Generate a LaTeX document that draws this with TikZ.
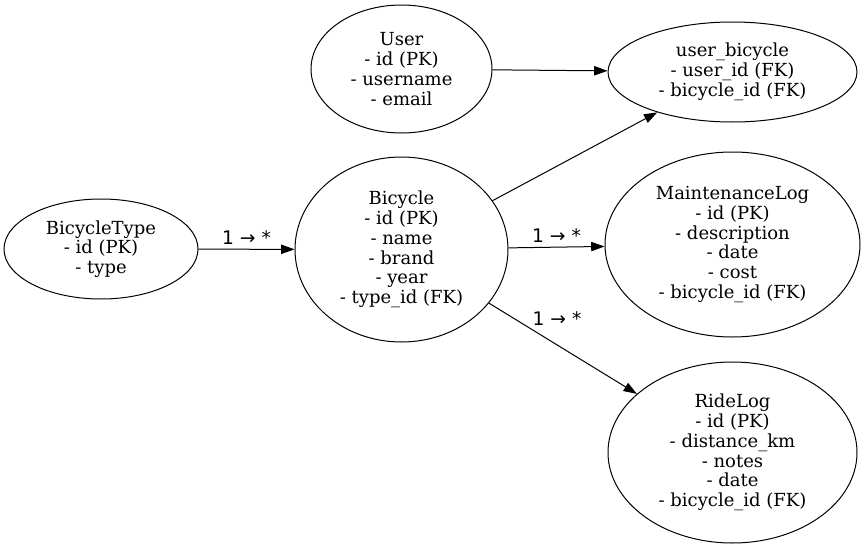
\documentclass[tikz,border=0pt]{standalone}
\usepackage{fontspec}
\setmainfont{DejaVu Serif}
\newfontfamily\cardfont{DejaVu Sans}
\usetikzlibrary{shapes.geometric}
\usetikzlibrary{arrows.meta}

\begin{document}
\begin{tikzpicture}[x=0.75pt,y=-0.75pt,line width=0.75pt,>/.tip={Triangle[length=10pt,width=7pt]},
	entity/.style={draw,shape=ellipse,inner sep=0pt,align=center,font=\fontsize{13.5}{14.8}\selectfont},
	card/.style={font=\cardfont\fontsize{14}{16}\selectfont,inner sep=0pt}]
	\useasboundingbox (0,0) rectangle (865,553);
	\draw (401.5,69) node(user) [entity,minimum width=135.75pt,minimum height=96pt] {User\\- id (PK)\\- username\\- email};
	\draw (732.5,72) node(userbike) [entity,minimum width=186.75pt,minimum height=75pt] {user\_bicycle\\- user\_id (FK)\\- bicycle\_id (FK)};
	\draw (101,249) node(biketype) [entity,minimum width=145.5pt,minimum height=75pt] {BicycleType\\- id (PK)\\- type};
	\draw (401.5,249.5) node(bike) [entity,minimum width=159.75pt,minimum height=138.75pt] {Bicycle\\- id (PK)\\- name\\- brand\\- year\\- type\_id (FK)};
	\draw (732.5,244.5) node(mlog) [entity,minimum width=191.25pt,minimum height=138.75pt] {MaintenanceLog\\- id (PK)\\- description\\- date\\- cost\\- bicycle\_id (FK)};
	\draw (732.5,452.5) node(ridelog) [entity,minimum width=186.75pt,minimum height=135.75pt] {RideLog\\- id (PK)\\- distance\_km\\- notes\\- date\\- bicycle\_id (FK)};
	\draw[->] (user) edge (userbike);
	\draw[->] (bike) edge (userbike);
	\draw[->] (biketype) edge node [card,yshift=8.5pt] {1 → *} (bike);
	\draw[->] (bike) edge node [card,yshift=8.5pt] {1 → *} (mlog);
	\draw[->] (bike) edge node [card,pos=0.46,yshift=19.5pt] {1 → *} (ridelog);
\end{tikzpicture}
\end{document}
